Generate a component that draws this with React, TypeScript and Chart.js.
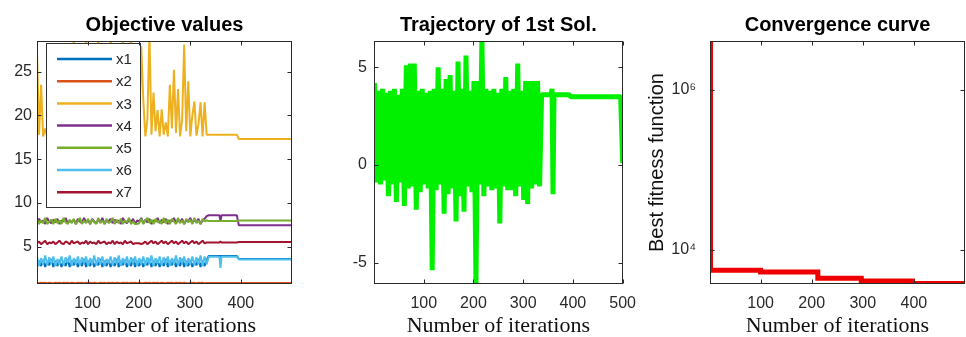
import React, { useEffect, useRef } from "react";
import { Chart, registerables } from "chart.js";

Chart.register(...registerables);

// ---------- shared iteration grids ----------
const NOISY_ITERS = [
  1, 5, 9, 13, 17, 21, 25, 29, 33, 37, 41, 45,
  49, 53, 57, 61, 65, 69, 73, 77, 81, 85, 89, 93,
  97, 101, 105, 109, 113, 117, 121, 125, 129, 133, 137, 141,
  145, 149, 153, 157, 161, 165, 169, 173, 177, 181, 185, 189,
  193, 197, 201, 205, 209, 213, 217, 221, 225, 229, 233, 237,
  241, 245, 249, 253, 257, 261, 265, 269, 273, 277, 281, 285,
  289, 293, 297, 301, 305, 309, 313, 317, 321, 325, 329, 333,
];
const TAIL_ITERS = [337, 356, 358, 360, 362, 392, 396, 496, 500];

// ---------- panel 1: objective values ----------
const X1_NOISY = [
  2.7, 3.4, 2.8, 3.5, 2.7, 3.3, 2.9, 3.6, 2.7, 3.4, 2.8, 3.5,
  2.7, 3.3, 2.8, 3.6, 2.7, 3.4, 2.9, 3.5, 2.7, 3.3, 2.8, 3.6,
  2.7, 3.4, 2.8, 3.5, 2.7, 3.3, 2.9, 3.6, 2.7, 3.4, 2.8, 3.5,
  2.7, 3.3, 2.8, 3.6, 2.7, 3.4, 2.9, 3.5, 2.7, 3.3, 2.8, 3.6,
  2.7, 3.4, 2.8, 3.5, 2.7, 3.3, 2.9, 3.6, 2.7, 3.4, 2.8, 3.5,
  2.7, 3.3, 2.8, 3.6, 2.7, 3.4, 2.9, 3.5, 2.7, 3.3, 2.8, 3.6,
  2.7, 3.4, 2.8, 3.5, 2.7, 3.3, 2.9, 3.6, 2.7, 3.4, 2.8, 3.5,
];
const X1_TAIL = [3.95, 3.95, 3.95, 3.95, 3.95, 3.95, 3.6, 3.6, 3.6];

const X2_NOISY = [
  0.88, 0.85, 0.9, 0.86, 0.88, 0.85, 0.9, 0.87, 0.85, 0.89, 0.86, 0.88,
  0.85, 0.9, 0.86, 0.88, 0.85, 0.89, 0.87, 0.85, 0.9, 0.86, 0.88, 0.85,
  0.89, 0.86, 0.88, 0.85, 0.9, 0.87, 0.85, 0.89, 0.86, 0.88, 0.85, 0.9,
  0.86, 0.88, 0.85, 0.89, 0.87, 0.85, 0.9, 0.86, 0.88, 0.85, 0.89, 0.86,
  0.88, 0.85, 0.9, 0.87, 0.85, 0.89, 0.86, 0.88, 0.85, 0.9, 0.86, 0.88,
  0.85, 0.89, 0.87, 0.85, 0.9, 0.86, 0.88, 0.85, 0.89, 0.86, 0.88, 0.85,
  0.9, 0.87, 0.85, 0.89, 0.86, 0.88, 0.85, 0.9, 0.86, 0.88, 0.85, 0.87,
];
const X2_TAIL = [0.87, 0.87, 0.87, 0.87, 0.87, 0.87, 0.87, 0.87, 0.87];

const X3_NOISY = [
  27.2, 17.8, 23.5, 17.6, 18.5, 17.6, 20.0, 17.8, 18.5, 17.6, 21.0, 17.7,
  17.7, 19.2, 17.6, 22.5, 17.8, 18.8, 29.5, 17.6, 19.5, 17.8, 24.0, 17.6,
  30.0, 18.0, 17.6, 21.0, 17.7, 19.0, 29.5, 17.6, 18.5, 17.8, 22.0, 17.6,
  30.0, 17.8, 19.5, 17.6, 20.5, 17.7, 29.5, 17.6, 18.6, 17.8, 30.0, 17.6,
  18.4, 17.6, 18.0, 27.9, 21.8, 17.6, 19.5, 29.5, 17.8, 22.6, 18.2, 20.6,
  17.6, 20.7, 17.8, 19.2, 17.6, 23.5, 18.5, 25.2, 18.0, 23.0, 17.6, 19.5,
  28.1, 18.2, 23.9, 17.6, 20.0, 21.6, 17.7, 19.0, 21.5, 17.6, 21.5, 17.8,
];
const X3_TAIL = [17.8, 17.8, 17.8, 17.8, 17.8, 17.8, 17.3, 17.3, 17.3];

const X4_NOISY = [
  7.7, 8.2, 7.8, 8.0, 7.6, 8.3, 7.9, 7.7, 8.1, 7.8, 8.2, 7.6,
  8.0, 7.9, 8.3, 7.7, 8.0, 7.8, 8.1, 7.6, 8.2, 7.9, 7.7, 8.3,
  7.8, 8.0, 7.6, 8.2, 7.9, 7.7, 8.1, 7.8, 8.3, 7.6, 8.0, 7.9,
  8.2, 7.7, 8.1, 7.8, 8.0, 7.6, 8.3, 7.9, 7.7, 8.1, 7.8, 8.2,
  7.6, 8.0, 7.9, 8.3, 7.7, 8.1, 7.8, 8.2, 7.6, 8.0, 7.9, 8.3,
  7.7, 8.1, 7.8, 8.2, 7.6, 8.0, 7.9, 8.3, 7.7, 8.1, 7.8, 8.2,
  7.6, 8.0, 7.9, 8.3, 7.7, 8.1, 7.8, 8.2, 7.6, 8.0, 8.2, 8.5,
];
const X4_TAIL = [8.6, 8.6, 8.6, 7.9, 8.6, 8.6, 7.45, 7.45, 7.45];

const X5_NOISY = [
  8.2, 7.6, 8.0, 7.7, 8.3, 7.6, 7.9, 8.1, 7.6, 8.2, 7.7, 8.0,
  7.6, 8.3, 7.8, 7.6, 8.1, 7.7, 8.2, 7.6, 7.9, 8.3, 7.6, 8.0,
  7.7, 8.2, 7.6, 8.1, 7.8, 7.6, 8.3, 7.7, 8.0, 7.6, 8.2, 7.7,
  7.9, 8.3, 7.6, 8.1, 7.7, 8.2, 7.6, 8.0, 7.8, 8.3, 7.6, 7.9,
  7.6, 7.6, 7.7, 8.2, 7.6, 8.0, 8.3, 7.7, 8.1, 7.6, 8.2, 7.8,
  8.0, 7.6, 8.3, 7.7, 8.1, 7.6, 8.2, 7.9, 7.6, 8.3, 7.7, 8.0,
  7.6, 8.2, 7.8, 8.1, 7.6, 8.3, 7.7, 8.0, 7.6, 8.2, 7.9, 8.0,
];
const X5_TAIL = [7.95, 7.95, 7.95, 7.95, 7.95, 7.95, 8.0, 8.0, 8.0];

const X6_NOISY = [
  3.9, 2.8, 3.7, 3.0, 4.0, 2.9, 3.8, 3.1, 3.9, 2.8, 3.6, 3.0,
  3.9, 2.9, 3.8, 3.2, 4.0, 2.8, 3.7, 3.0, 3.9, 2.9, 3.8, 3.1,
  3.9, 2.8, 3.7, 3.0, 4.0, 2.9, 3.8, 3.0, 3.9, 2.8, 3.6, 3.1,
  3.9, 2.9, 3.8, 3.0, 4.0, 2.8, 3.7, 3.0, 3.9, 2.9, 3.8, 3.1,
  3.9, 2.8, 3.7, 3.0, 3.9, 2.9, 3.8, 3.0, 4.0, 2.8, 3.7, 3.1,
  3.9, 2.9, 3.8, 3.0, 3.9, 2.8, 3.7, 3.0, 4.0, 2.9, 3.8, 3.1,
  3.9, 2.8, 3.7, 3.0, 3.9, 2.9, 3.8, 3.0, 4.0, 2.8, 3.9, 3.0,
];
const X6_TAIL = [3.85, 3.85, 3.85, 2.6, 3.85, 3.85, 3.55, 3.55, 3.55];

const X7_NOISY = [
  5.4, 5.6, 5.3, 5.5, 5.7, 5.3, 5.5, 5.4, 5.6, 5.3, 5.5, 5.7,
  5.4, 5.3, 5.6, 5.5, 5.3, 5.7, 5.4, 5.5, 5.6, 5.3, 5.5, 5.4,
  5.7, 5.3, 5.6, 5.4, 5.5, 5.3, 5.7, 5.4, 5.5, 5.6, 5.3, 5.5,
  5.4, 5.7, 5.3, 5.6, 5.4, 5.5, 5.3, 5.7, 5.4, 5.5, 5.6, 5.3,
  5.4, 5.4, 5.4, 5.3, 5.4, 5.6, 5.3, 5.5, 5.7, 5.4, 5.6, 5.3,
  5.5, 5.7, 5.4, 5.6, 5.3, 5.5, 5.7, 5.4, 5.6, 5.3, 5.5, 5.7,
  5.4, 5.6, 5.3, 5.5, 5.7, 5.4, 5.6, 5.3, 5.5, 5.7, 5.4, 5.5,
];
const X7_TAIL = [5.5, 5.5, 5.5, 5.6, 5.5, 5.5, 5.55, 5.55, 5.55];

const OBJ_LABELS = ["x1", "x2", "x3", "x4", "x5", "x6", "x7"];
const OBJ_COLORS = ["#0072BD", "#D95319", "#EDB120", "#7E2F8E", "#77AC30", "#4DBEEE", "#A2142F"];
const OBJ_NOISY = [X1_NOISY, X2_NOISY, X3_NOISY, X4_NOISY, X5_NOISY, X6_NOISY, X7_NOISY];
const OBJ_TAIL = [X1_TAIL, X2_TAIL, X3_TAIL, X4_TAIL, X5_TAIL, X6_TAIL, X7_TAIL];
const OBJ_Y_TICKS = [5, 10, 15, 20, 25];
const OBJ_X_TICKS = [100, 200, 300, 400];

// ---------- panel 2: trajectory of 1st solution ----------
const TRAJ_NOISY = [
  4.2, -0.9, 3.8, -1.0, 3.9, -0.8, 3.7, -1.6, 3.8, -1.0, 3.9, -1.9,
  3.6, -0.9, 3.9, -2.1, 5.1, -1.2, 5.2, -1.1, 5.2, -2.3, 3.8, -1.4,
  3.9, -1.0, 3.7, -1.2, 3.8, -5.4, 3.9, -1.3, 5.0, -1.0, 3.9, -2.5,
  4.4, -1.5, 4.6, -1.2, 3.8, -2.9, 5.3, -1.6, 3.9, -2.4, 5.6, -1.1,
  3.8, -1.4, 4.3, -6.2, 4.3, -1.0, 6.6, -1.6, 3.9, -1.1, 3.8, -1.3,
  3.9, -1.2, 3.7, -3.0, 3.9, -1.1, 4.5, -1.3, 3.8, -1.3, 3.9, -1.6,
  5.2, -1.1, 3.8, -1.8, 4.3, -2.0, 4.3, -1.2, 4.3, -1.0, 4.3, -1.1,
];
const TRAJ_TAIL = [3.6, 3.6, 3.9, -1.5, 3.6, 3.6, 3.5, 3.5, 0.1];
const TRAJ_Y_TICKS = [-5, 0, 5];
const TRAJ_X_TICKS = [100, 200, 300, 400, 500];

// ---------- panel 3: convergence curve ----------
const CONV_ITERS = [1, 2, 100, 212, 297, 397, 500];
const CONV_VALUES = [4100000, 5600, 5300, 4450, 4100, 3820, 3820];
const CONV_Y_TICKS = [10000, 1000000];
const CONV_Y_LABELS = ["10\u2074", "10\u2076"];
const CONV_X_TICKS = [100, 200, 300, 400];

// ---------- styling helpers ----------
const SANS = "'Liberation Sans', Arial, sans-serif";
const SERIF = "'Liberation Serif', 'Times New Roman', serif";
const AXIS_COLOR = "#2a2a2a";

const toPoints = (iters: number[], vals: number[]) => iters.map((x, i) => ({ x, y: vals[i] }));

const boxPlugin = {
  id: "matlabBox",
  afterDraw(chart: any) {
    const { ctx, chartArea: a, scales } = chart;
    ctx.save();
    ctx.strokeStyle = AXIS_COLOR;
    ctx.lineWidth = 1;
    const l = Math.round(a.left) + 0.5;
    const t = Math.round(a.top) + 0.5;
    const r = Math.round(a.right) - 0.5;
    const b = Math.round(a.bottom) - 0.5;
    ctx.strokeRect(l, t, r - l, b - t);
    const tl = 4;
    ctx.beginPath();
    for (const tk of scales.x.ticks) {
      const px = Math.round(scales.x.getPixelForValue(tk.value)) + 0.5;
      ctx.moveTo(px, b);
      ctx.lineTo(px, b - tl);
      ctx.moveTo(px, t);
      ctx.lineTo(px, t + tl);
    }
    for (const tk of scales.y.ticks) {
      const py = Math.round(scales.y.getPixelForValue(tk.value)) + 0.5;
      ctx.moveTo(l, py);
      ctx.lineTo(l + tl, py);
      ctx.moveTo(r, py);
      ctx.lineTo(r - tl, py);
    }
    ctx.stroke();
    ctx.restore();
  },
};

const legendPlugin = {
  id: "objLegend",
  afterDatasetsDraw(chart: any) {
    const { ctx, chartArea: a } = chart;
    const x0 = Math.round(a.left) + 9;
    const y0 = Math.round(a.top) + 2;
    const w = 94;
    const h = 164;
    ctx.save();
    ctx.fillStyle = "#ffffff";
    ctx.fillRect(x0, y0, w, h);
    ctx.strokeStyle = "#333333";
    ctx.lineWidth = 1;
    ctx.strokeRect(x0 + 0.5, y0 + 0.5, w, h);
    ctx.font = `15px ${SANS}`;
    ctx.textBaseline = "middle";
    chart.data.datasets.forEach((ds: any, i: number) => {
      const y = y0 + 16 + i * 22.2;
      ctx.strokeStyle = ds.borderColor;
      ctx.lineWidth = 2.5;
      ctx.beginPath();
      ctx.moveTo(x0 + 11, y);
      ctx.lineTo(x0 + 66, y);
      ctx.stroke();
      ctx.fillStyle = "#262626";
      ctx.fillText(ds.label, x0 + 70, y + 1);
    });
    ctx.restore();
  },
};

function xScale(min: number, max: number, ticks: number[]) {
  return {
    type: "linear",
    min,
    max,
    afterBuildTicks: (s: any) => {
      s.ticks = ticks.map((v) => ({ value: v }));
    },
    afterFit: (s: any) => {
      s.height = 53;
    },
    grid: { display: false, drawTicks: false },
    border: { display: false },
    ticks: {
      padding: 10,
      color: AXIS_COLOR,
      autoSkip: false,
      maxRotation: 0,
      font: { family: SANS, size: 16 },
    },
    title: {
      display: true,
      text: "Number of iterations",
      color: "#111111",
      font: { family: SERIF, size: 22, lineHeight: 1 },
      padding: { top: 0, bottom: 0 },
    },
  };
}

function yLinear(min: number, max: number, ticks: number[], width: number, pad: number) {
  return {
    type: "linear",
    min,
    max,
    afterBuildTicks: (s: any) => {
      s.ticks = ticks.map((v) => ({ value: v }));
    },
    afterFit: (s: any) => {
      s.width = width;
    },
    grid: { display: false, drawTicks: false },
    border: { display: false },
    ticks: { padding: pad, color: AXIS_COLOR, autoSkip: false, font: { family: SANS, size: 16 } },
  };
}

function titleOpts(text: string) {
  return {
    display: true,
    text,
    color: "#000000",
    fullSize: false,
    font: { family: SANS, size: 20, weight: "bold", lineHeight: 1.2 },
    padding: { top: 13, bottom: 4 },
  };
}

const basePlugins = (text: string) => ({
  legend: { display: false },
  tooltip: { enabled: false },
  title: titleOpts(text),
});

export default function App() {
  const r1 = useRef<HTMLCanvasElement>(null);
  const r2 = useRef<HTMLCanvasElement>(null);
  const r3 = useRef<HTMLCanvasElement>(null);

  useEffect(() => {
    const objIters = [...NOISY_ITERS, ...TAIL_ITERS];
    const c1 = new Chart(r1.current as HTMLCanvasElement, {
      type: "line",
      data: {
        datasets: OBJ_LABELS.map((label, i) => ({
          label,
          data: toPoints(objIters, [...OBJ_NOISY[i], ...OBJ_TAIL[i]]),
          borderColor: OBJ_COLORS[i],
          backgroundColor: OBJ_COLORS[i],
          borderWidth: 2,
          pointRadius: 0,
          tension: 0,
          borderJoinStyle: "bevel",
          order: 7 - i,
        })),
      },
      options: {
        responsive: false,
        animation: false,
        events: [],
        layout: { padding: { left: 0, right: 28, top: 0, bottom: 0 } },
        scales: {
          x: xScale(1, 500, OBJ_X_TICKS),
          y: yLinear(0.75, 28.5, OBJ_Y_TICKS, 37, 5),
        },
        plugins: basePlugins("Objective values"),
      } as any,
      plugins: [legendPlugin, boxPlugin],
    });

    const c2 = new Chart(r2.current as HTMLCanvasElement, {
      type: "line",
      data: {
        datasets: [
          {
            label: "Trajectory",
            data: toPoints([...NOISY_ITERS, ...TAIL_ITERS], [...TRAJ_NOISY, ...TRAJ_TAIL]),
            borderColor: "#00f000",
            backgroundColor: "#00f000",
            borderWidth: 5,
            pointRadius: 0,
            tension: 0,
            borderJoinStyle: "bevel",
          },
        ],
      },
      options: {
        responsive: false,
        animation: false,
        events: [],
        layout: { padding: { left: 0, right: 18, top: 0, bottom: 0 } },
        scales: {
          x: xScale(0, 500, TRAJ_X_TICKS),
          y: yLinear(-6.1, 6.35, TRAJ_Y_TICKS, 48, 7),
        },
        plugins: basePlugins("Trajectory of 1st Sol."),
      } as any,
      plugins: [boxPlugin],
    });

    const c3 = new Chart(r3.current as HTMLCanvasElement, {
      type: "line",
      data: {
        datasets: [
          {
            label: "Convergence",
            data: toPoints(CONV_ITERS, CONV_VALUES),
            borderColor: "#ee0000",
            backgroundColor: "#ee0000",
            borderWidth: 5,
            pointRadius: 0,
            stepped: true,
            borderJoinStyle: "miter",
          },
        ],
      },
      options: {
        responsive: false,
        animation: false,
        events: [],
        layout: { padding: { left: 0, right: 1, top: 0, bottom: 0 } },
        scales: {
          x: xScale(1, 500, CONV_X_TICKS),
          y: {
            type: "logarithmic",
            min: 3760,
            max: 4100000,
            afterBuildTicks: (s: any) => {
              s.ticks = CONV_Y_TICKS.map((v) => ({ value: v }));
            },
            afterFit: (s: any) => {
              s.width = 64;
            },
            grid: { display: false, drawTicks: false },
            border: { display: false },
            ticks: {
              padding: 14,
              color: AXIS_COLOR,
              autoSkip: false,
              font: { family: SANS, size: 16 },
              callback: (_v: any, i: number) => CONV_Y_LABELS[i],
            },
            title: {
              display: true,
              text: "Best fitness function",
              color: "#111111",
              font: { family: SANS, size: 20, lineHeight: 1 },
              padding: { top: 1, bottom: 0 },
            },
          },
        },
        plugins: basePlugins("Convergence curve"),
      } as any,
      plugins: [boxPlugin],
    });

    return () => {
      c1.destroy();
      c2.destroy();
      c3.destroy();
    };
  }, []);

  return (
    <div
      style={{
        position: "fixed",
        left: 0,
        top: 0,
        width: 966,
        height: 337,
        background: "#ffffff",
        overflow: "hidden",
      }}
    >
      <canvas ref={r1} width={320} height={337} style={{ position: "absolute", left: 0, top: 0 }} />
      <canvas ref={r2} width={320} height={337} style={{ position: "absolute", left: 326, top: 0 }} />
      <canvas ref={r3} width={320} height={337} style={{ position: "absolute", left: 646, top: 0 }} />
    </div>
  );
}
